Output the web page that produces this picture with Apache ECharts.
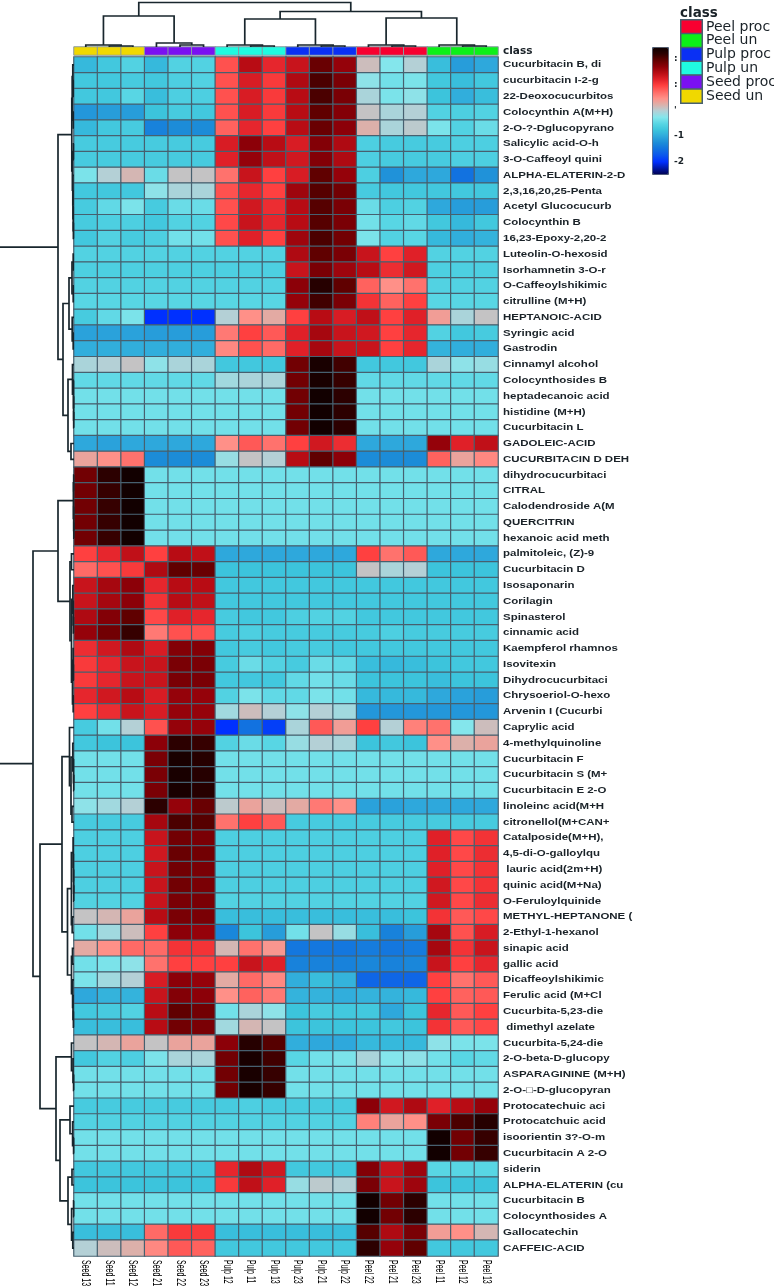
<!DOCTYPE html>
<html>
<head>
<meta charset="utf-8">
<title>Metabolite heatmap</title>
<script src="https://cdn.jsdelivr.net/npm/echarts@6/dist/echarts.min.js"></script>
<style>
  html, body { margin: 0; padding: 0; background: #fff; }
  #chart { width: 774px; height: 1287px; }
</style>
</head>
<body>
<div id="chart"></div>
<script>
const sampleNames = ['Seed 13', 'Seed 11', 'Seed 12', 'Seed 21', 'Seed 22', 'Seed 23', 'Pulp 12', 'Pulp 11', 'Pulp 13',
  'Pulp 23', 'Pulp 21', 'Pulp 22', 'Peel 22', 'Peel 21', 'Peel 23', 'Peel 11', 'Peel 12', 'Peel 13']

// class index of each sample, points into classNames
const sampleClass = [5, 5, 5, 4, 4, 4, 3, 3, 3, 2, 2, 2, 0, 0, 0, 1, 1, 1]
const classNames = ['Peel proc', 'Peel un', 'Pulp proc', 'Pulp un', 'Seed proc', 'Seed un']
const classColors = ['#f80030', '#0cf018', '#0a30f4', '#20fae0', '#7a10f2', '#f0d800']

const metabolites = [
  'Cucurbitacin B, di', 'cucurbitacin I-2-g', '22-Deoxocucurbitos', 'Colocynthin A(M+H)', '2-O-?-Dglucopyrano',
  'Salicylic acid-O-h', '3-O-Caffeoyl quini', 'ALPHA-ELATERIN-2-D', '2,3,16,20,25-Penta', 'Acetyl Glucocucurb',
  'Colocynthin B', '16,23-Epoxy-2,20-2', 'Luteolin-O-hexosid', 'Isorhamnetin 3-O-r', 'O-Caffeoylshikimic',
  'citrulline (M+H)', 'HEPTANOIC-ACID', 'Syringic acid', 'Gastrodin', 'Cinnamyl alcohol',
  'Colocynthosides B', 'heptadecanoic acid', 'histidine (M+H)', 'Cucurbitacin L', 'GADOLEIC-ACID',
  'CUCURBITACIN D DEH', 'dihydrocucurbitaci', 'CITRAL', 'Calodendroside A(M', 'QUERCITRIN',
  'hexanoic acid meth', 'palmitoleic, (Z)-9', 'Cucurbitacin D', 'Isosaponarin', 'Corilagin',
  'Spinasterol', 'cinnamic acid', 'Kaempferol rhamnos', 'Isovitexin', 'Dihydrocucurbitaci',
  'Chrysoeriol-O-hexo', 'Arvenin I (Cucurbi', 'Caprylic acid', '4-methylquinoline', 'Cucurbitacin F',
  'Cucurbitacin S (M+', 'Cucurbitacin E 2-O', 'linoleinc acid(M+H', 'citronellol(M+CAN+', 'Catalposide(M+H),',
  '4,5-di-O-galloylqu', ' lauric acid(2m+H)', 'quinic acid(M+Na)', 'O-Feruloylquinide', 'METHYL-HEPTANONE (',
  '2-Ethyl-1-hexanol', 'sinapic acid', 'gallic acid', 'Dicaffeoylshikimic', 'Ferulic acid (M+Cl',
  'Cucurbita-5,23-die', ' dimethyl azelate', 'Cucurbita-5,24-die', '2-O-beta-D-glucopy', 'ASPARAGININE (M+H)',
  '2-O-\u25A1-D-glucopyran', 'Protocatechuic aci', 'Protocatchuic acid', 'isoorientin 3?-O-m', 'Cucurbitacin A 2-O',
  'siderin', 'ALPHA-ELATERIN (cu', 'Cucurbitacin B', 'Colocynthosides A', 'Gallocatechin', 'CAFFEIC-ACID'
]

// z-scores, one row per metabolite, one column per sample
const zScores = [
  [-0.85, -0.7, -0.55, -0.85, -0.55, -0.55, 0.9, 1.5, 1.2, 1.4, 1.95, 1.7, 0.15, -0.25, 0, -0.8, -1.1, -1],
  [-0.7, -0.7, -0.65, -0.7, -0.6, -0.55, 0.9, 1.3, 1.05, 1.55, 2.1, 1.85, -0.2, -0.35, -0.3, -0.7, -0.8, -0.7],
  [-0.7, -0.7, -0.5, -0.8, -0.6, -0.6, 0.9, 1.3, 1.05, 1.5, 2.1, 1.85, -0.05, -0.3, -0.2, -0.75, -0.95, -0.8],
  [-1.15, -1.1, -1.1, -0.75, -0.65, -0.7, 0.9, 1.3, 1.05, 1.5, 2, 1.8, 0.1, -0.05, 0, -0.55, -0.6, -0.55],
  [-0.85, -0.7, -0.65, -1.35, -1.25, -1.25, 0.8, 1.2, 1, 1.5, 1.95, 1.75, 0.25, -0.05, 0.05, -0.3, -0.55, -0.4],
  [-0.65, -0.65, -0.65, -0.65, -0.65, -0.65, 1.3, 1.75, 1.5, 1.3, 1.8, 1.55, -0.6, -0.65, -0.65, -0.65, -0.6, -0.6],
  [-0.65, -0.65, -0.65, -0.65, -0.65, -0.65, 1.25, 1.7, 1.45, 1.35, 1.8, 1.55, -0.6, -0.65, -0.65, -0.65, -0.6, -0.6],
  [-0.3, 0, 0.2, -0.4, 0.1, 0.1, 0.7, 1.4, 1, 1.3, 2, 1.7, -0.6, -1.2, -1, -1, -1.5, -1.2],
  [-0.7, -0.7, -0.7, -0.2, -0.05, -0.05, 0.9, 1.2, 1, 1.65, 2.05, 1.9, -0.65, -0.7, -0.7, -0.7, -0.7, -0.7],
  [-0.65, -0.45, -0.3, -0.65, -0.4, -0.4, 0.9, 1.35, 1.15, 1.5, 2.05, 1.85, -0.4, -0.6, -0.55, -1, -1.1, -1.1],
  [-0.65, -0.6, -0.6, -0.7, -0.55, -0.55, 0.95, 1.4, 1.2, 1.5, 2.05, 1.85, -0.35, -0.5, -0.45, -0.7, -0.85, -0.7],
  [-0.7, -0.55, -0.65, -0.6, -0.35, -0.35, 0.9, 1.25, 1, 1.65, 2.1, 1.9, -0.3, -0.55, -0.5, -0.85, -0.95, -0.9],
  [-0.55, -0.55, -0.55, -0.55, -0.55, -0.55, -0.55, -0.55, -0.55, 1.55, 2, 1.85, 1.4, 1, 1.25, -0.55, -0.55, -0.55],
  [-0.6, -0.6, -0.6, -0.6, -0.6, -0.6, -0.6, -0.6, -0.6, 1.4, 1.85, 1.65, 1.5, 1.15, 1.35, -0.6, -0.6, -0.6],
  [-0.55, -0.55, -0.55, -0.55, -0.55, -0.55, -0.55, -0.55, -0.55, 1.75, 2.3, 2, 0.8, 0.5, 0.7, -0.55, -0.55, -0.55],
  [-0.5, -0.5, -0.5, -0.5, -0.5, -0.5, -0.5, -0.5, -0.5, 1.7, 2.15, 1.85, 1.1, 0.8, 1, -0.5, -0.5, -0.5],
  [-0.65, -0.45, -0.3, -2, -2, -2, 0, 0.5, 0.3, 1, 1.5, 1.3, 1.45, 1, 1.25, 0.4, -0.05, 0.1],
  [-1.05, -1.05, -1.05, -1.1, -1.1, -1.1, 0.65, 1, 0.85, 1.25, 1.6, 1.4, 1.35, 1, 1.2, -0.55, -0.7, -0.65],
  [-0.95, -0.95, -0.95, -0.95, -0.95, -0.95, 0.55, 0.9, 0.75, 1.25, 1.6, 1.4, 1.4, 1, 1.2, -0.9, -0.95, -0.95],
  [-0.05, 0, 0.1, -0.2, -0.05, -0.05, -0.7, -0.7, -0.7, 1.9, 2.4, 2.15, -0.7, -0.7, -0.7, -0.05, -0.2, -0.15],
  [-0.45, -0.45, -0.45, -0.45, -0.45, -0.45, -0.1, -0.05, -0.05, 1.9, 2.4, 2.2, -0.45, -0.45, -0.45, -0.45, -0.45, -0.45],
  [-0.35, -0.35, -0.35, -0.35, -0.35, -0.35, -0.35, -0.35, -0.35, 1.9, 2.45, 2.25, -0.35, -0.35, -0.35, -0.35, -0.35, -0.35],
  [-0.35, -0.35, -0.35, -0.35, -0.35, -0.35, -0.35, -0.35, -0.35, 1.9, 2.45, 2.25, -0.35, -0.35, -0.35, -0.35, -0.35, -0.35],
  [-0.35, -0.35, -0.35, -0.35, -0.35, -0.35, -0.35, -0.35, -0.35, 1.9, 2.45, 2.25, -0.35, -0.35, -0.35, -0.35, -0.35, -0.35],
  [-1, -1.05, -1, -1, -1, -1, 0.5, 0.85, 0.7, 1, 1.35, 1.15, -1, -1, -1, 1.7, 1.25, 1.45],
  [0.35, 0.5, 0.7, -1.25, -1.25, -1.25, -0.15, 0.1, 0, 1.5, 2, 1.75, -1.25, -1.25, -1.25, 0.8, 0.35, 0.55],
  [1.9, 2.25, 2.45, -0.35, -0.35, -0.35, -0.35, -0.35, -0.35, -0.35, -0.35, -0.35, -0.35, -0.35, -0.35, -0.35, -0.35, -0.35],
  [1.9, 2.2, 2.45, -0.35, -0.35, -0.35, -0.35, -0.35, -0.35, -0.35, -0.35, -0.35, -0.35, -0.35, -0.35, -0.35, -0.35, -0.35],
  [1.9, 2.2, 2.45, -0.35, -0.35, -0.35, -0.35, -0.35, -0.35, -0.35, -0.35, -0.35, -0.35, -0.35, -0.35, -0.35, -0.35, -0.35],
  [1.9, 2.2, 2.45, -0.35, -0.35, -0.35, -0.35, -0.35, -0.35, -0.35, -0.35, -0.35, -0.35, -0.35, -0.35, -0.35, -0.35, -0.35],
  [1.9, 2.2, 2.45, -0.35, -0.35, -0.35, -0.35, -0.35, -0.35, -0.35, -0.35, -0.35, -0.35, -0.35, -0.35, -0.35, -0.35, -0.35],
  [1, 1.2, 1.45, 1, 1.5, 1.45, -1, -1, -1, -1, -1, -1, 1, 0.7, 0.85, -1, -1, -1],
  [0.75, 0.9, 1.05, 1.55, 2, 1.95, -0.75, -0.75, -0.75, -0.75, -0.75, -0.75, 0.1, -0.05, 0, -0.75, -0.75, -0.75],
  [1.4, 1.6, 1.75, 1.2, 1.5, 1.5, -0.7, -0.7, -0.7, -0.7, -0.7, -0.7, -0.7, -0.7, -0.7, -0.7, -0.7, -0.7],
  [1.4, 1.6, 1.75, 1.1, 1.5, 1.45, -0.7, -0.7, -0.7, -0.7, -0.7, -0.7, -0.7, -0.7, -0.7, -0.7, -0.7, -0.7],
  [1.55, 1.8, 2, 0.95, 1.25, 1.2, -0.65, -0.7, -0.7, -0.6, -0.55, -0.55, -0.7, -0.7, -0.7, -0.7, -0.7, -0.7],
  [1.7, 1.9, 2.2, 0.65, 0.9, 0.9, -0.65, -0.6, -0.65, -0.65, -0.65, -0.65, -0.65, -0.6, -0.65, -0.65, -0.65, -0.65],
  [1.15, 1.35, 1.55, 1.3, 1.8, 1.8, -0.7, -0.65, -0.7, -0.65, -0.65, -0.7, -0.7, -0.7, -0.7, -0.7, -0.7, -0.7],
  [1.05, 1.2, 1.4, 1.4, 1.85, 1.85, -0.65, -0.4, -0.55, -0.65, -0.4, -0.45, -0.8, -0.85, -0.8, -0.75, -0.7, -0.7],
  [1.05, 1.2, 1.4, 1.4, 1.85, 1.85, -0.7, -0.7, -0.7, -0.45, -0.35, -0.4, -0.75, -0.75, -0.75, -0.8, -0.75, -0.75],
  [1.2, 1.35, 1.5, 1.3, 1.7, 1.7, -0.55, -0.3, -0.45, -0.45, -0.3, -0.35, -0.85, -0.85, -0.85, -1, -1.05, -1.1],
  [1, 1.15, 1.4, 1.3, 1.7, 1.7, -0.1, 0.15, 0, -0.2, 0, -0.1, -1.15, -1.15, -1.15, -1.15, -1.15, -1.15],
  [-0.65, -0.35, 0, 0.9, 1.7, 1.7, -2, -1.5, -1.9, -0.05, 0.85, 0.4, 1, 0, 0.6, 0.7, -0.25, 0.15],
  [-0.7, -0.75, -0.75, 1.75, 2.25, 2.2, -0.55, -0.4, -0.5, -0.15, 0, -0.05, -0.75, -0.7, -0.75, 0.5, 0.25, 0.35],
  [-0.35, -0.35, -0.35, 1.85, 2.4, 2.3, -0.35, -0.35, -0.35, -0.35, -0.35, -0.35, -0.35, -0.35, -0.35, -0.35, -0.35, -0.35],
  [-0.35, -0.35, -0.35, 1.85, 2.4, 2.3, -0.35, -0.35, -0.35, -0.35, -0.35, -0.35, -0.35, -0.35, -0.35, -0.35, -0.35, -0.35],
  [-0.35, -0.35, -0.35, 1.85, 2.4, 2.3, -0.35, -0.35, -0.35, -0.35, -0.35, -0.35, -0.35, -0.35, -0.35, -0.35, -0.35, -0.35],
  [-0.2, -0.1, 0, 2.25, 1.7, 1.95, 0.05, 0.35, 0.15, 0.3, 0.65, 0.5, -1.05, -1.05, -1, -1, -1, -1],
  [-0.65, -0.65, -0.65, 1.6, 2.1, 2.05, 0.7, 1, 0.85, -0.65, -0.65, -0.65, -0.65, -0.65, -0.65, -0.65, -0.65, -0.65],
  [-0.6, -0.6, -0.6, 1.4, 1.9, 1.85, -0.6, -0.6, -0.6, -0.6, -0.6, -0.6, -0.6, -0.6, -0.6, 1.25, 0.95, 1.1],
  [-0.6, -0.6, -0.6, 1.35, 1.95, 1.9, -0.6, -0.6, -0.6, -0.6, -0.6, -0.6, -0.6, -0.6, -0.6, 1.25, 0.95, 1.15],
  [-0.6, -0.6, -0.6, 1.4, 1.9, 1.85, -0.6, -0.6, -0.6, -0.6, -0.6, -0.6, -0.6, -0.6, -0.6, 1.25, 0.95, 1.1],
  [-0.6, -0.6, -0.6, 1.4, 1.9, 1.85, -0.6, -0.6, -0.6, -0.6, -0.6, -0.6, -0.6, -0.6, -0.6, 1.35, 0.95, 1.1],
  [-0.55, -0.55, -0.55, 1.4, 1.85, 1.85, -0.55, -0.55, -0.55, -0.55, -0.55, -0.55, -0.55, -0.55, -0.55, 1.35, 0.95, 1.15],
  [0.1, 0.2, 0.35, 1.5, 1.85, 1.85, -0.8, -0.8, -0.8, -0.8, -0.8, -0.8, -0.8, -0.8, -0.75, 1.1, 0.85, 0.95],
  [-0.35, -0.1, 0.15, 1, 1.75, 1.7, -1.3, -0.75, -1.1, -0.35, 0.1, -0.15, -0.8, -1.35, -1.1, 1.6, 0.9, 1.3],
  [0.3, 0.5, 0.75, 0.75, 1.1, 1.1, 0.2, 0.7, 0.45, -1.45, -1.45, -1.45, -1.4, -1.45, -1.4, 1.6, 1.1, 1.4],
  [-0.35, -0.3, -0.2, 0.7, 1, 1, 1, 1.4, 1.25, -1.35, -1.35, -1.35, -1.3, -1.35, -1.3, 1.4, 1, 1.2],
  [-0.3, -0.1, 0, 1.3, 1.75, 1.7, 0.3, 0.75, 0.55, -0.95, -0.8, -0.9, -1.6, -1.6, -1.6, 1, 0.7, 0.85],
  [-1, -0.9, -0.9, 1.4, 1.8, 1.75, 0.5, 0.8, 0.65, -0.9, -0.9, -0.95, -0.9, -0.9, -0.85, 1, 0.8, 0.85],
  [-0.7, -0.65, -0.55, 1.5, 2, 1.9, -0.35, -0.05, -0.2, -0.75, -0.65, -0.7, -0.7, -1, -0.75, 1.2, 0.85, 1],
  [-0.8, -0.8, -0.8, 1.5, 1.9, 1.85, -0.1, 0.2, 0.1, -0.75, -0.75, -0.75, -0.75, -0.7, -0.75, 1.1, 0.85, 0.95],
  [0.1, 0.2, 0.35, 0.1, 0.35, 0.35, 1.75, 2.3, 2.05, -0.95, -1, -1, -0.85, -0.85, -0.85, -0.2, -0.3, -0.3],
  [-0.7, -0.55, -0.6, -0.3, -0.05, -0.05, 1.9, 2.4, 2.15, -0.5, -0.35, -0.3, -0.05, -0.25, -0.2, -0.35, -0.5, -0.45],
  [-0.35, -0.35, -0.35, -0.35, -0.35, -0.35, 1.9, 2.4, 2.2, -0.35, -0.35, -0.35, -0.35, -0.35, -0.35, -0.35, -0.35, -0.35],
  [-0.35, -0.35, -0.35, -0.35, -0.35, -0.35, 1.9, 2.4, 2.2, -0.35, -0.35, -0.35, -0.35, -0.35, -0.35, -0.35, -0.35, -0.35],
  [-0.65, -0.65, -0.65, -0.65, -0.65, -0.65, -0.65, -0.6, -0.65, -0.65, -0.65, -0.65, 1.75, 1.35, 1.55, 1.25, 1.5, 1.7],
  [-0.55, -0.55, -0.55, -0.55, -0.55, -0.55, -0.55, -0.55, -0.55, -0.55, -0.55, -0.55, 0.6, 0.35, 0.5, 1.85, 2.1, 2.3],
  [-0.35, -0.35, -0.35, -0.35, -0.35, -0.35, -0.35, -0.35, -0.35, -0.35, -0.35, -0.35, -0.35, -0.35, -0.35, 2.45, 1.9, 2.2],
  [-0.35, -0.35, -0.35, -0.35, -0.35, -0.35, -0.35, -0.35, -0.35, -0.35, -0.35, -0.35, -0.35, -0.35, -0.35, 2.45, 1.9, 2.2],
  [-0.7, -0.7, -0.7, -0.7, -0.7, -0.7, 1.2, 1.55, 1.35, -0.7, -0.7, -0.7, 1.8, 1.4, 1.65, -0.5, -0.5, -0.5],
  [-0.75, -0.75, -0.75, -0.75, -0.75, -0.75, 1.05, 1.45, 1.25, -0.15, 0.05, 0, 1.85, 1.4, 1.65, -0.75, -0.75, -0.75],
  [-0.35, -0.35, -0.35, -0.35, -0.35, -0.35, -0.35, -0.35, -0.35, -0.35, -0.35, -0.35, 2.45, 1.9, 2.25, -0.35, -0.35, -0.35],
  [-0.35, -0.35, -0.35, -0.35, -0.35, -0.35, -0.35, -0.35, -0.35, -0.35, -0.35, -0.35, 2.45, 1.9, 2.25, -0.35, -0.35, -0.35],
  [-0.8, -0.8, -0.8, 0.75, 1.05, 1.05, -0.8, -0.8, -0.8, -0.8, -0.8, -0.8, 2.05, 1.55, 1.85, 0.4, 0.5, 0.2],
  [0, 0.15, 0.25, 0.55, 0.85, 0.8, -0.7, -0.7, -0.7, -0.7, -0.7, -0.7, 2.25, 1.7, 2, -0.7, -0.7, -0.7]
]

// dendrograms: a node is [left, right, height], a leaf is a column or row index
const colTree = [
  [[0, [1, 2, 1], 2], [3, [4, 5, 2], 4], 31],
  [
    [[6, [7, 8, 1], 2], [9, [10, 11, 1], 2], 28],
    [[12, [13, 14, 1], 2], [15, [16, 17, 1], 2], 29],
    35.5
  ],
  44.5
]

const rowTree = [
  [
    [
      [[0, [1, 2, 0.8], 1.2], [3, 4, 0.8], 1.8],
      [[5, 6, 0.6], [7, [8, [9, [10, 11, 0.6], 0.8], 1], 1.2], 1.6],
      2.2
    ],
    [
      [[[12, 13, 0.8], [14, 15, 0.8], 2], [16, [17, 18, 0.8], 1.8], 5],
      [[19, [20, [21, [22, 23, 0.3], 0.4], 0.5], 1.5], [24, 25, 3], 6],
      11
    ],
    16
  ],
  [
    [
      [[26, 27, 0.3], [28, [29, 30, 0.2], 0.3], 0.6],
      [
        [31, 32, 2.5],
        [[33, [34, [35, 36, 0.6], 0.8], 1.2], [[37, [38, 39, 0.6], 0.9], [40, 41, 0.8], 1.5], 2.5],
        4
      ],
      16
    ],
    [
      [
        [42, [[43, [44, [45, 46, 0.3], 0.5], 1.2], [47, 48, 2], 3], 4.5],
        [
          [[49, [50, [51, [52, 53, 0.3], 0.4], 0.6], 0.9], [54, 55, 1.8], 2.6],
          [[56, 57, 1.5], [58, [59, [60, 61, 0.6], 1], 1.4], 2.5],
          6.5
        ],
        12
      ],
      [
        [62, [63, [64, 65, 0.4], 1], 2.5],
        [
          [66, [67, [68, 69, 0.4], 1.4], 4],
          [[70, 71, 2], [[72, 73, 0.4], [74, 75, 1.2], 2.4], 6],
          14
        ],
        18
      ],
      34
    ],
    41
  ],
  90
]

const colorStops = ['#000050', '#0018a8', '#0030ff', '#0a55ee', '#1272e0', '#1c8cd8', '#2ea8dc', '#3cc4dc', '#58d6e4', '#84e6ec',
  '#b4d0d6', '#dcb0aa', '#ff9088', '#ff6a66', '#ff4040', '#e02028', '#b80c14', '#8c0008', '#600000', '#2c0000', '#0c0000']

const cellBorder = '#47606f'
const treeColor = '#18262d'
const inkColor = '#1a2228'

// walk a tree, returns the node position and pushes one [pos1, pos2, h1, h2, h] per merge
const flattenTree = (node, out) => {
  if (typeof node === 'number') return { pos: node, h: 0 }
  const a = flattenTree(node[0], out)
  const b = flattenTree(node[1], out)
  out.push([a.pos, b.pos, a.h, b.h, node[2]])
  return { pos: (a.pos + b.pos) / 2, h: node[2] }
}

const colMerges = []
flattenTree(colTree, colMerges)
const rowMerges = []
flattenTree(rowTree, rowMerges)

const heatData = []
zScores.forEach((row, y) => row.forEach((v, x) => heatData.push([x, y, v])))

const treeSeries = (gridIdx, merges, toCoord) => ({
  type: 'custom',
  xAxisIndex: gridIdx,
  yAxisIndex: gridIdx,
  silent: true,
  data: merges,
  encode: { x: 0, y: 1 },
  renderItem: (params, api) => {
    const [p1, p2, h1, h2, h] = [0, 1, 2, 3, 4].map(i => api.value(i))
    const points = [[p1, h1], [p1, h], [p2, h], [p2, h2]].map(p => api.coord(toCoord(p)))
    return {
      type: 'polyline',
      shape: { points },
      style: { stroke: treeColor, lineWidth: 1.7, fill: 'none' }
    }
  }
})

// the source figure has its labels stretched, axisLabel cannot scale text so they go through custom series
const rowLabelSeries = {
  type: 'custom',
  silent: true,
  clip: false,
  data: metabolites.map((name, i) => [sampleNames[17], i]),
  encode: { x: 0, y: 1 },
  renderItem: (params, api) => {
    const i = params.dataIndex
    const pos = api.coord([17, i])
    return {
      type: 'text',
      x: pos[0] + api.size([1, 1])[0] / 2 + 5,
      y: pos[1],
      scaleX: 1.25,
      style: {
        text: metabolites[i],
        fontFamily: 'Liberation Sans',
        fontWeight: 'bold',
        fontSize: 9.2,
        fill: inkColor,
        align: 'left',
        verticalAlign: 'middle'
      }
    }
  }
}

const colLabelSeries = {
  type: 'custom',
  silent: true,
  clip: false,
  data: sampleNames.map((name, i) => [i, metabolites[75]]),
  encode: { x: 0, y: 1 },
  renderItem: (params, api) => {
    const i = params.dataIndex
    const pos = api.coord([i, 75])
    return {
      type: 'text',
      x: pos[0],
      y: pos[1] + api.size([1, 1])[1] / 2 + 4,
      rotation: -Math.PI / 2,
      scaleX: 0.56,
      style: {
        text: sampleNames[i],
        fontFamily: 'Liberation Sans',
        fontSize: 12.5,
        fill: '#000',
        align: 'left',
        verticalAlign: 'middle'
      }
    }
  }
}

const hiddenValue = (gridIndex, min, max, inverse) => ({
  type: 'value', gridIndex, min, max, inverse, show: false
})

const legendTick = (text, top) => ({
  type: 'text', left: 674, top,
  style: { text, fontFamily: 'DejaVu Sans', fontWeight: 'bold', fontSize: 9, fill: inkColor }
})

const chart = echarts.init(document.getElementById('chart'))

chart.setOption({
  animation: false,
  backgroundColor: '#fff',
  textStyle: { fontFamily: 'DejaVu Sans' },
  grid: [
    { left: 74, top: 57, width: 424, height: 1199, outerBoundsMode: 'none' },
    { left: 74, top: 47, width: 424, height: 8, outerBoundsMode: 'none' },
    // "Seed proc" runs off the page in the source too, keep the swatches full width
    { left: 681, top: 20, width: 21, height: 83, outerBoundsMode: 'none' },
    { left: 74, top: 0, width: 424, height: 47, outerBoundsMode: 'none' },
    { left: 0, top: 57, width: 74, height: 1199, outerBoundsMode: 'none' }
  ],
  xAxis: [
    {
      type: 'category', gridIndex: 0, data: sampleNames,
      axisLine: { show: false }, axisTick: { show: false }, splitLine: { show: false }, axisLabel: { show: false }
    },
    { type: 'category', gridIndex: 1, data: sampleNames, show: false },
    { type: 'category', gridIndex: 2, data: ['class'], show: false },
    hiddenValue(3, -0.5, 17.5, false),
    hiddenValue(4, 0, 74, true)
  ],
  yAxis: [
    {
      type: 'category', gridIndex: 0, data: metabolites, inverse: true, position: 'right',
      axisLine: { show: false }, axisTick: { show: false }, splitLine: { show: false }, axisLabel: { show: false }
    },
    {
      type: 'category', gridIndex: 1, data: ['class'], position: 'right',
      axisLine: { show: false }, axisTick: { show: false },
      axisLabel: { margin: 5, fontFamily: 'DejaVu Sans', fontWeight: 'bold', fontSize: 10.5, color: inkColor }
    },
    {
      type: 'category', gridIndex: 2, data: classNames, inverse: true, position: 'right',
      axisLine: { show: false }, axisTick: { show: false },
      axisLabel: { interval: 0, margin: 4, fontFamily: 'DejaVu Sans', fontSize: 14, color: inkColor }
    },
    hiddenValue(3, 0, 47, false),
    hiddenValue(4, -0.5, 75.5, true)
  ],
  visualMap: {
    type: 'continuous',
    seriesIndex: 0,
    min: -2.5,
    max: 2.5,
    left: 652,
    top: 47,
    itemWidth: 16,
    itemHeight: 127,
    padding: 0,
    borderColor: '#4a5a72',
    borderWidth: 1,
    calculable: false,
    realtime: false,
    hoverLink: false,
    text: null,
    showLabel: false,
    inRange: { color: colorStops }
  },
  series: [
    {
      type: 'heatmap',
      data: heatData,
      progressive: 0,
      silent: true,
      itemStyle: { borderColor: cellBorder, borderWidth: 1.2 },
      emphasis: { disabled: true }
    },
    {
      type: 'heatmap',
      xAxisIndex: 1,
      yAxisIndex: 1,
      silent: true,
      data: sampleClass.map((c, x) => ({ value: [x, 0, c], itemStyle: { color: classColors[c] } })),
      itemStyle: { borderColor: '#8a9aa2', borderWidth: 1 },
      emphasis: { disabled: true }
    },
    {
      type: 'heatmap',
      xAxisIndex: 2,
      yAxisIndex: 2,
      silent: true,
      data: classNames.map((name, y) => ({ value: [0, y, y], itemStyle: { color: classColors[y] } })),
      itemStyle: { borderColor: cellBorder, borderWidth: 1.5 },
      emphasis: { disabled: true }
    },
    treeSeries(3, colMerges, p => [p[0], p[1]]),
    treeSeries(4, rowMerges, p => [p[1], p[0]]),
    rowLabelSeries,
    colLabelSeries
  ],
  graphic: [
    { type: 'text', left: 680, top: 6, style: { text: 'class', fontFamily: 'DejaVu Sans', fontWeight: 'bold', fontSize: 13.5, fill: inkColor } },
    legendTick(':', 54),
    legendTick(':', 80),
    legendTick('\'', 106),
    legendTick('-1', 131),
    legendTick('-2', 157)
  ]
})
</script>
</body>
</html>
